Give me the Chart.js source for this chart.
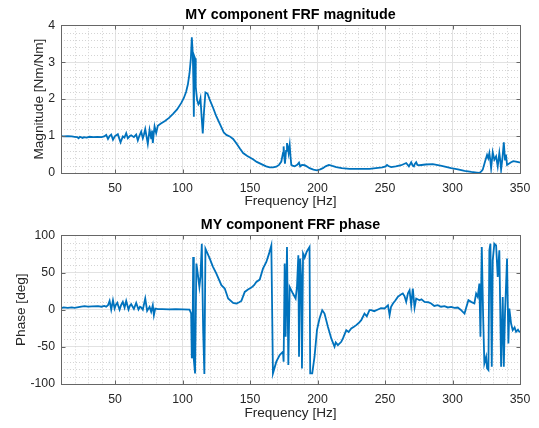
<!DOCTYPE html>
<html lang="en">
<head>
    <meta charset="UTF-8">
    <title>MY component FRF</title>
    <script src="https://cdn.jsdelivr.net/npm/chart.js"></script>
    <style>
        body {
            margin: 0;
            background-color: #ffffff;
        }
        canvas {
            display: block;
        }
    </style>
</head>
<body>
    <canvas id="magChart" width="539" height="214"></canvas>
    <canvas id="phaseChart" width="539" height="214"></canvas>

    <script>
        // tick labels
        const freqTicks = [50, 100, 150, 200, 250, 300, 350];
        const magTicks = [0, 1, 2, 3, 4];
        const phaseTicks = [-100, -50, 0, 50, 100];

        // magnitude series
        const magFreq = [10, 12, 15, 18, 20, 22, 23, 24, 26, 27, 29, 31, 34, 37, 40, 42, 43.5, 44.8, 46, 47.2,
            48.5, 50, 52.1, 53, 54.1, 55.8, 57, 58.3, 59.5, 61, 62, 64, 65.7, 66.9, 68, 69.4, 70.6, 71.5, 72.4, 73.3,
            74.3, 75.6, 76.8, 77.4, 78, 78.8, 79.3, 80.5, 81.7, 84, 87, 90, 93, 96, 99, 101, 102.7, 104, 105.2, 106.2,
            106.9, 107.6, 108.1, 108.4, 108.8, 109.3, 109.8, 110.8, 111.8, 112.5, 113.3, 114.2, 115, 116, 117, 118.5, 120, 122.5, 125.1, 128,
            130.5, 132.5, 135, 137.5, 140, 142.5, 144.9, 148, 152.2, 155, 159.6, 162, 164.6, 167, 169.5, 171.5, 173.2, 174.5,
            174.9, 175.5, 175.9, 176.7, 177.4, 178, 178.6, 179.4, 180, 180.6, 182, 183.1, 185, 186.3, 187.2, 188.5, 190.5, 192,
            194.1, 197, 199.6, 202, 204, 206, 208.4, 211, 213.9, 218, 223.7, 230, 238.5, 244.8, 248, 250.5, 251.5, 252.5,
            254.6, 258, 262, 265.7, 267.7, 269.4, 270.5, 271.4, 272, 273.1, 274, 275.6, 280, 285.4, 292, 299, 304, 308.9,
            314, 318, 320, 321.5, 322.4, 324, 325.6, 326.5, 327.3, 328, 328.6, 329.8, 331, 332.3, 333.5, 334.7, 335.5, 336,
            337, 338, 338.9, 339.6, 340.4, 342, 343.4, 345, 347.1, 349.5, 350];
        const magVal = [1.00, 0.99, 1.00, 0.99, 0.98, 0.97, 0.94, 0.98, 0.95, 0.97, 0.96, 0.98, 0.97, 0.98, 0.97, 0.99, 1.03, 0.92, 1.00, 1.04,
            0.90, 1.00, 1.05, 0.95, 0.83, 0.99, 0.96, 1.08, 0.94, 1.00, 1.02, 0.97, 1.04, 0.88, 1.00, 1.12, 0.94, 1.05, 1.19, 1.00,
            0.79, 1.17, 0.94, 1.15, 0.81, 1.10, 1.26, 1.08, 1.28, 1.34, 1.41, 1.49, 1.60, 1.72, 1.89, 2.03, 2.20, 2.40, 2.70, 3.10,
            3.67, 3.24, 2.40, 1.52, 3.15, 3.10, 2.34, 1.98, 1.86, 1.90, 2.02, 1.50, 1.07, 1.70, 2.18, 2.15, 2.00, 1.78, 1.53, 1.30,
            1.10, 1.03, 0.99, 0.92, 0.80, 0.66, 0.54, 0.46, 0.37, 0.30, 0.22, 0.18, 0.15, 0.15, 0.17, 0.22, 0.31, 0.55,
            0.72, 0.40, 0.25, 0.60, 0.81, 0.70, 0.54, 0.76, 0.45, 0.22, 0.19, 0.18, 0.22, 0.28, 0.18, 0.22, 0.21, 0.18,
            0.13, 0.09, 0.07, 0.10, 0.13, 0.18, 0.22, 0.19, 0.16, 0.13, 0.11, 0.11, 0.11, 0.14, 0.15, 0.18, 0.22, 0.19,
            0.16, 0.18, 0.21, 0.27, 0.18, 0.29, 0.20, 0.18, 0.24, 0.29, 0.22, 0.21, 0.23, 0.24, 0.19, 0.13, 0.10, 0.06,
            0.03, 0.01, 0.00, 0.05, 0.09, 0.30, 0.49, 0.40, 0.54, 0.35, 0.13, 0.56, 0.36, 0.45, 0.18, 0.54, 0.30, 0.09,
            0.40, 0.83, 0.36, 0.50, 0.22, 0.26, 0.29, 0.32, 0.31, 0.29, 0.28];

        // phase series
        const phaseFreq = [10, 12, 15, 18, 20, 23, 25, 27.5, 30, 33, 37.4, 40, 42, 43.5, 44.8, 46, 47.2, 48.5, 49.7, 50.5,
            51.7, 53.4, 54.5, 55.8, 57.1, 58.3, 60, 61, 62, 64, 65.7, 67.4, 68.5, 69.4, 70.6, 72.4, 73.8, 75.6, 76.8, 78,
            78.8, 79.8, 81.7, 85, 90, 95, 100, 105.2, 106.4, 106.9, 107.4, 107.9, 108.4, 109.3, 110.3, 111.3, 112.5, 113.3, 114.3, 115.3,
            116.2, 117, 120.2, 122.5, 125.1, 128.8, 131.3, 133.8, 137.5, 139.9, 142, 143.6, 146.1, 148.5, 151, 153, 154.7, 157.2, 159.6, 162.1,
            164.1, 165.8, 167, 169.5, 172, 174.4, 174.9, 175.7, 176.4, 177.4, 178.4, 179.4, 181.8, 183.8, 184.8, 185.8, 186.3, 187.2, 188, 188.5,
            189.3, 190.5, 192, 194.1, 194.6, 196.1, 197.8, 199.6, 201.5, 203.5, 205.2, 207.7, 210.2, 212.6, 213.5, 215.1, 217.6, 219, 221.3, 223,
            225, 227, 228.7, 230.5, 232.4, 234.8, 236.5, 238.5, 239.8, 242, 244.8, 247, 249.7, 252.2, 253.4, 254.5, 255.9, 257.5, 259.5, 261.5,
            263.2, 264.5, 265.7, 267, 268.2, 269.4, 270.6, 271.9, 273.1, 275.6, 277, 279.3, 282, 284.2, 286.5, 289.1, 291.5, 294.1, 296.5, 299,
            301.5, 303.9, 306, 308.9, 310.5, 311.8, 313.8, 316.2, 317.5, 318.7, 319.9, 320.7, 321.7, 322.7, 323.6, 324.9, 325.6, 326.6, 327.3, 328.1,
            329.1, 329.8, 331, 332.3, 333.5, 334.7, 336, 337.2, 338, 338.9, 340.4, 341.4, 342.1, 343.4, 344.6, 346, 347.1, 348.5, 349.5, 350];
        const phaseVal = [2, 3, 2.5, 3, 2.5, 3.5, 4, 4.7, 4, 4.5, 4.7, 4, 5, 4, 6, 11.8, 0, 12.7, 1.6, 6,
            9.2, 0, 6, 10.5, 2.9, 11.8, 0.2, 5, 7.4, 1.1, 9.2, 0.2, 4, 2.9, 0, 15, -1.6, 3.8, -2.9, 6,
            -7.4, 1.6, 0.7, 0.8, 0.5, 0.6, 0.4, 0, -5, -65.5, -60, 70.9, -67.8, -85.7, 62, 48.5, 30.6, 44.1, 88.8, -27.5,
            -86.6, 82.1, 68.7, 58, 48.5, 32.9, 28.4, 15, 9.2, 8.3, 10, 11.8, 23.9, 27.1, 29.7, 33, 37.4, 40.5, 55.2, 64.2,
            75.4, 86.6, -85.7, -70, -61.1, -56.6, -70, 62, -36.5, 84.3, -74.5, 30.6, 21.7, 15, 30.6, 73.1, -63.3, 68.7, 39.6, -79,
            75.4, 70, 78, 84.3, -85.7, -85.7, -63.3, -27.5, -11.9, -0.7, -5.2, -23, -38.7, -49.9, -44, -47.7, -43.2, -38, -27.5, -30,
            -25.3, -23, -20.8, -18, -14.1, -5.2, -9, -0.7, -0.7, -2, 0.2, 2, 1.6, 6, -7.4, 4, 8.3, 12, 17.2, 20,
            21.7, 18, 10.5, 22, 26.2, 6, 28.4, 2.9, 15, 12.7, 14, 10.5, 10, 8.3, 5, 6, 4, 4.7, 3, 3.8,
            2.5, 2.9, 0, -5.2, 5, 12.7, 10.5, 8.3, 21.7, 17.2, 35.1, -36.5, 84.3, -9.6, -72.3, -63.3, -79, -81.2, 79.8, 88.8,
            -76.7, 66.4, 88.8, 86.6, 44.1, 79.8, -76.7, 17.2, -76.7, -5.2, 68.7, -45.4, 1.6, -18.6, -27.5, -24, -29.7, -27, -29.7, -29];

        const lineColor = '#0072BD';
        const textColor = '#262626';
        const fontFamily = '"Liberation Sans", Arial, sans-serif';

        // minor dotted grid under the data, box and inward ticks on top (MATLAB look)
        const matlabAxes = {
            id: 'matlabAxes',
            beforeDatasetsDraw(chart, args, opts) {
                const { ctx, chartArea: a, scales: { x, y } } = chart;
                ctx.save();
                ctx.strokeStyle = '#d4d4d4';
                ctx.lineWidth = 1;
                ctx.setLineDash([1, 2]);
                ctx.beginPath();
                const minors = (scale, step, major) => {
                    const out = [];
                    for (let i = Math.ceil(scale.min / step); i <= Math.floor(scale.max / step); i++) {
                        const v = i * step;
                        const r = v / major;
                        if (Math.abs(r - Math.round(r)) < 1e-6) continue;
                        if (v <= scale.min || v >= scale.max) continue;
                        out.push(v);
                    }
                    return out;
                };
                minors(x, opts.xMinor, opts.xMajor).forEach(v => {
                    const px = Math.round(x.getPixelForValue(v)) + 0.5;
                    ctx.moveTo(px, a.top);
                    ctx.lineTo(px, a.bottom);
                });
                minors(y, opts.yMinor, opts.yMajor).forEach(v => {
                    const py = Math.round(y.getPixelForValue(v)) + 0.5;
                    ctx.moveTo(a.left, py);
                    ctx.lineTo(a.right, py);
                });
                ctx.stroke();
                ctx.restore();
            },
            afterDraw(chart) {
                const { ctx, chartArea: a, scales: { x, y } } = chart;
                const l = Math.round(a.left) + 0.5, r = Math.round(a.right) + 0.5;
                const t = Math.round(a.top) + 0.5, b = Math.round(a.bottom) + 0.5;
                ctx.save();
                ctx.strokeStyle = '#666666';
                ctx.lineWidth = 1;
                ctx.beginPath();
                x.ticks.forEach(tk => {
                    const px = Math.round(x.getPixelForValue(tk.value)) + 0.5;
                    ctx.moveTo(px, b); ctx.lineTo(px, b - 4);
                    ctx.moveTo(px, t); ctx.lineTo(px, t + 4);
                });
                y.ticks.forEach(tk => {
                    const py = Math.round(y.getPixelForValue(tk.value)) + 0.5;
                    ctx.moveTo(l, py); ctx.lineTo(l + 4, py);
                    ctx.moveTo(r, py); ctx.lineTo(r - 4, py);
                });
                ctx.strokeRect(l, t, r - l, b - t);
                ctx.stroke();
                ctx.restore();
            }
        };

        function makeChart(id, cfg) {
            const points = cfg.freq.map((f, i) => ({ x: f, y: cfg.values[i] }));
            return new Chart(document.getElementById(id), {
                type: 'line',
                data: {
                    datasets: [{
                        data: points,
                        borderColor: lineColor,
                        borderWidth: 1.8,
                        pointRadius: 0,
                        tension: 0,
                        fill: false
                    }]
                },
                options: {
                    responsive: false,
                    animation: false,
                    layout: { padding: { left: 0, right: 19, top: 0, bottom: 0 } },
                    plugins: {
                        legend: { display: false },
                        tooltip: { enabled: false },
                        title: {
                            display: true,
                            fullSize: false,
                            text: cfg.title,
                            color: '#000000',
                            font: { family: fontFamily, size: 14.3, weight: 'bold' },
                            padding: cfg.titlePad
                        },
                        matlabAxes: cfg.minor
                    },
                    scales: {
                        x: {
                            type: 'linear',
                            min: 10,
                            max: 350,
                            afterBuildTicks: s => { s.ticks = freqTicks.map(v => ({ value: v })); },
                            afterFit: s => { s.height = cfg.xHeight; },
                            grid: { color: '#e2e2e2', drawTicks: false },
                            border: { display: false },
                            ticks: {
                                color: textColor,
                                font: { family: fontFamily, size: 12.3 },
                                padding: 8,
                                maxRotation: 0,
                                autoSkip: false
                            },
                            title: {
                                display: true,
                                text: 'Frequency [Hz]',
                                color: textColor,
                                font: { family: fontFamily, size: 13.6 },
                                padding: { top: 0, bottom: cfg.xTitlePad }
                            }
                        },
                        y: {
                            type: 'linear',
                            min: cfg.yMin,
                            max: cfg.yMax,
                            afterBuildTicks: s => { s.ticks = cfg.yTicks.map(v => ({ value: v })); },
                            afterFit: s => { s.width = 61; },
                            grid: { color: '#e2e2e2', drawTicks: false },
                            border: { display: false },
                            ticks: {
                                color: textColor,
                                font: { family: fontFamily, size: 12.3 },
                                padding: 6,
                                autoSkip: false
                            },
                            title: {
                                display: true,
                                text: cfg.yTitle,
                                color: textColor,
                                font: { family: fontFamily, size: 13.6 },
                                padding: { top: cfg.yTitlePad, bottom: 0 }
                            }
                        }
                    }
                },
                plugins: [matlabAxes]
            });
        }

        makeChart('magChart', {
            freq: magFreq,
            values: magVal,
            title: 'MY component FRF magnitude',
            titlePad: { top: 6, bottom: 2 },
            xHeight: 41,
            xTitlePad: 5,
            yMin: 0,
            yMax: 4,
            yTicks: magTicks,
            yTitle: 'Magnitude [Nm/Nm]',
            yTitlePad: 31,
            minor: { xMinor: 10, xMajor: 50, yMinor: 0.2, yMajor: 1 }
        });

        makeChart('phaseChart', {
            freq: phaseFreq,
            values: phaseVal,
            title: 'MY component FRF phase',
            titlePad: { top: 2.6, bottom: 1.6 },
            xHeight: 44,
            xTitlePad: 7,
            yMin: -100,
            yMax: 100,
            yTicks: phaseTicks,
            yTitle: 'Phase [deg]',
            yTitlePad: 13,
            minor: { xMinor: 10, xMajor: 50, yMinor: 10, yMajor: 50 }
        });
    </script>
</body>
</html>
